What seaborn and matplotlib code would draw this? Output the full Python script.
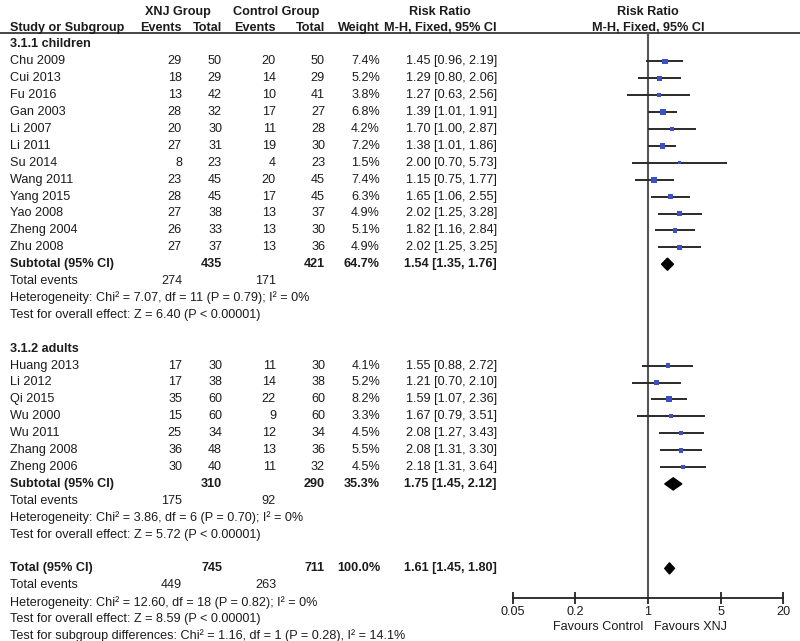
import numpy as np
import pandas as pd
import seaborn as sns
import matplotlib.pyplot as plt

sns.set_style("white")
plt.rcParams["font.family"] = ["Liberation Sans", "DejaVu Sans"]

# --- data ---
children_names = ["Chu 2009", "Cui 2013", "Fu 2016", "Gan 2003", "Li 2007", "Li 2011",
                  "Su 2014", "Wang 2011", "Yang 2015", "Yao 2008", "Zheng 2004", "Zhu 2008"]
children_xnj_ev = [29, 18, 13, 28, 20, 27, 8, 23, 28, 27, 26, 27]
children_xnj_tot = [50, 29, 42, 32, 30, 31, 23, 45, 45, 38, 33, 37]
children_ctl_ev = [20, 14, 10, 17, 11, 19, 4, 20, 17, 13, 13, 13]
children_ctl_tot = [50, 29, 41, 27, 28, 30, 23, 45, 45, 37, 30, 36]
children_weight = [7.4, 5.2, 3.8, 6.8, 4.2, 7.2, 1.5, 7.4, 6.3, 4.9, 5.1, 4.9]
children_rr = [1.45, 1.29, 1.27, 1.39, 1.70, 1.38, 2.00, 1.15, 1.65, 2.02, 1.82, 2.02]
children_lo = [0.96, 0.80, 0.63, 1.01, 1.00, 1.01, 0.70, 0.75, 1.06, 1.25, 1.16, 1.25]
children_hi = [2.19, 2.06, 2.56, 1.91, 2.87, 1.86, 5.73, 1.77, 2.55, 3.28, 2.84, 3.25]

adults_names = ["Huang 2013", "Li 2012", "Qi 2015", "Wu 2000", "Wu 2011", "Zhang 2008", "Zheng 2006"]
adults_xnj_ev = [17, 17, 35, 15, 25, 36, 30]
adults_xnj_tot = [30, 38, 60, 60, 34, 48, 40]
adults_ctl_ev = [11, 14, 22, 9, 12, 13, 11]
adults_ctl_tot = [30, 38, 60, 60, 34, 36, 32]
adults_weight = [4.1, 5.2, 8.2, 3.3, 4.5, 5.5, 4.5]
adults_rr = [1.55, 1.21, 1.59, 1.67, 2.08, 2.08, 2.18]
adults_lo = [0.88, 0.70, 1.07, 0.79, 1.27, 1.31, 1.31]
adults_hi = [2.72, 2.10, 2.36, 3.51, 3.43, 3.30, 3.64]

sub_labels = ["Subtotal (95% CI)", "Subtotal (95% CI)", "Total (95% CI)"]
sub_xnj_tot = [435, 310, 745]
sub_ctl_tot = [421, 290, 711]
sub_weight = ["64.7%", "35.3%", "100.0%"]
sub_rr = [1.54, 1.75, 1.61]
sub_lo = [1.35, 1.45, 1.45]
sub_hi = [1.76, 2.12, 1.80]
sub_xnj_events = [274, 175, 449]
sub_ctl_events = [171, 92, 263]
sub_het = ["Heterogeneity: Chi\u00b2 = 7.07, df = 11 (P = 0.79); I\u00b2 = 0%",
           "Heterogeneity: Chi\u00b2 = 3.86, df = 6 (P = 0.70); I\u00b2 = 0%",
           "Heterogeneity: Chi\u00b2 = 12.60, df = 18 (P = 0.82); I\u00b2 = 0%"]
sub_test = ["Test for overall effect: Z = 6.40 (P < 0.00001)",
            "Test for overall effect: Z = 5.72 (P < 0.00001)",
            "Test for overall effect: Z = 8.59 (P < 0.00001)"]
subgroup_test = "Test for subgroup differences: Chi\u00b2 = 1.16, df = 1 (P = 0.28), I\u00b2 = 14.1%"
group_titles = ["3.1.1 children", "3.1.2 adults"]

x_ticks = [0.05, 0.2, 1, 5, 20]
x_ticklabels = ["0.05", "0.2", "1", "5", "20"]

studies = pd.DataFrame({
    "study": children_names + adults_names,
    "xnj_ev": children_xnj_ev + adults_xnj_ev,
    "xnj_tot": children_xnj_tot + adults_xnj_tot,
    "ctl_ev": children_ctl_ev + adults_ctl_ev,
    "ctl_tot": children_ctl_tot + adults_ctl_tot,
    "weight": children_weight + adults_weight,
    "rr": children_rr + adults_rr,
    "lo": children_lo + adults_lo,
    "hi": children_hi + adults_hi,
})
# row index of each study (title row, then studies, for each subgroup)
studies["row"] = list(range(1, 13)) + list(range(19, 26))
sub_rows = [13, 26, 31]
title_rows = [0, 18]

# --- layout ---
W, H = 800, 641
y0, step = 44.5, 16.9
def row_of(px):
    return (px - y0) / step

fig = plt.figure(figsize=(W / 100, H / 100), dpi=100)
ax = fig.add_axes([0, 0, 1, 1])
ax.set_xlim(0, W)
ax.set_ylim(row_of(H), row_of(0))
ax.axis("off")

fs = 9.1
tc = "#1c1c1c"
col_x = {"name": 10, "xnj_ev": 182, "xnj_tot": 222, "ctl_ev": 276, "ctl_tot": 325,
         "weight": 380, "rr": 497}

def txt(x, y, s, ha="left", bold=False):
    ax.text(x, y, s, ha=ha, va="center", fontsize=fs, color=tc,
            fontweight="bold" if bold else "normal")

# headers
hy1, hy2 = row_of(12), row_of(28)
txt(178, hy1, "XNJ Group", ha="center", bold=True)
txt(276, hy1, "Control Group", ha="center", bold=True)
txt(440, hy1, "Risk Ratio", ha="center", bold=True)
txt(648, hy1, "Risk Ratio", ha="center", bold=True)
txt(col_x["name"], hy2, "Study or Subgroup", bold=True)
txt(col_x["xnj_ev"], hy2, "Events", ha="right", bold=True)
txt(col_x["xnj_tot"], hy2, "Total", ha="right", bold=True)
txt(col_x["ctl_ev"], hy2, "Events", ha="right", bold=True)
txt(col_x["ctl_tot"], hy2, "Total", ha="right", bold=True)
txt(col_x["weight"], hy2, "Weight", ha="right", bold=True)
txt(440, hy2, "M-H, Fixed, 95% CI", ha="center", bold=True)
txt(648, hy2, "M-H, Fixed, 95% CI", ha="center", bold=True)
ax.plot([0, W], [row_of(33)] * 2, color="#444444", lw=1.4)

for r, t in zip(title_rows, group_titles):
    txt(col_x["name"], r, t, bold=True)

for _, s in studies.iterrows():
    r = s["row"]
    txt(col_x["name"], r, s["study"])
    txt(col_x["xnj_ev"], r, str(s["xnj_ev"]), ha="right")
    txt(col_x["xnj_tot"], r, str(s["xnj_tot"]), ha="right")
    txt(col_x["ctl_ev"], r, str(s["ctl_ev"]), ha="right")
    txt(col_x["ctl_tot"], r, str(s["ctl_tot"]), ha="right")
    txt(col_x["weight"], r, f"{s['weight']:.1f}%", ha="right")
    txt(col_x["rr"], r, f"{s['rr']:.2f} [{s['lo']:.2f}, {s['hi']:.2f}]", ha="right")

for i, r in enumerate(sub_rows):
    txt(col_x["name"], r, sub_labels[i], bold=True)
    txt(col_x["xnj_tot"], r, str(sub_xnj_tot[i]), ha="right", bold=True)
    txt(col_x["ctl_tot"], r, str(sub_ctl_tot[i]), ha="right", bold=True)
    txt(col_x["weight"], r, sub_weight[i], ha="right", bold=True)
    txt(col_x["rr"], r, f"{sub_rr[i]:.2f} [{sub_lo[i]:.2f}, {sub_hi[i]:.2f}]",
        ha="right", bold=True)
    txt(col_x["name"], r + 1, "Total events")
    txt(col_x["xnj_ev"], r + 1, str(sub_xnj_events[i]), ha="right")
    txt(col_x["ctl_ev"], r + 1, str(sub_ctl_events[i]), ha="right")
    txt(col_x["name"], r + 2, sub_het[i])
    txt(col_x["name"], r + 3, sub_test[i])
txt(col_x["name"], sub_rows[-1] + 4, subgroup_test)

# --- forest panel ---
left, right = 513, 783
ax_top, ax_bot = 33, 598
axf = fig.add_axes([left / W, (H - ax_bot) / H, (right - left) / W, (ax_bot - ax_top) / H])
axf.set_xscale("log")
axf.set_xlim(x_ticks[0], x_ticks[-1])
axf.set_ylim(row_of(ax_bot), row_of(ax_top))
axf.patch.set_alpha(0)
for sp in ["left", "right", "top"]:
    axf.spines[sp].set_visible(False)
axf.spines["bottom"].set_color("#222222")
axf.spines["bottom"].set_linewidth(1.3)
axf.set_yticks([])
axf.set_xticks(x_ticks)
axf.set_xticklabels(x_ticklabels)
axf.minorticks_off()
axf.tick_params(axis="x", direction="inout", length=9, width=1.3, color="#222222",
                labelsize=fs, labelcolor=tc, pad=1, bottom=True)

axf.axvline(1, color="#555555", lw=1.5, zorder=1)
axf.hlines(studies["row"], studies["lo"], studies["hi"], color="#2a2a2a", lw=1.4, zorder=2)
sns.scatterplot(data=studies, x="rr", y="row", size="weight", sizes=(4, 18),
                marker="s", color="#3d4fc4", edgecolor="none", legend=False,
                ax=axf, zorder=3)
axf.set_xlabel("")
axf.set_ylabel("")

half = 0.36
for i, r in enumerate(sub_rows):
    h = half if i < 2 else 0.33
    axf.fill([sub_lo[i], sub_rr[i], sub_hi[i], sub_rr[i]], [r, r - h, r, r + h],
             color="black", zorder=4)

ax.text(643, row_of(627), "Favours Control", ha="right", va="center", fontsize=fs, color=tc)
ax.text(654, row_of(627), "Favours XNJ", ha="left", va="center", fontsize=fs, color=tc)

fig.savefig("out.png", dpi=100)
